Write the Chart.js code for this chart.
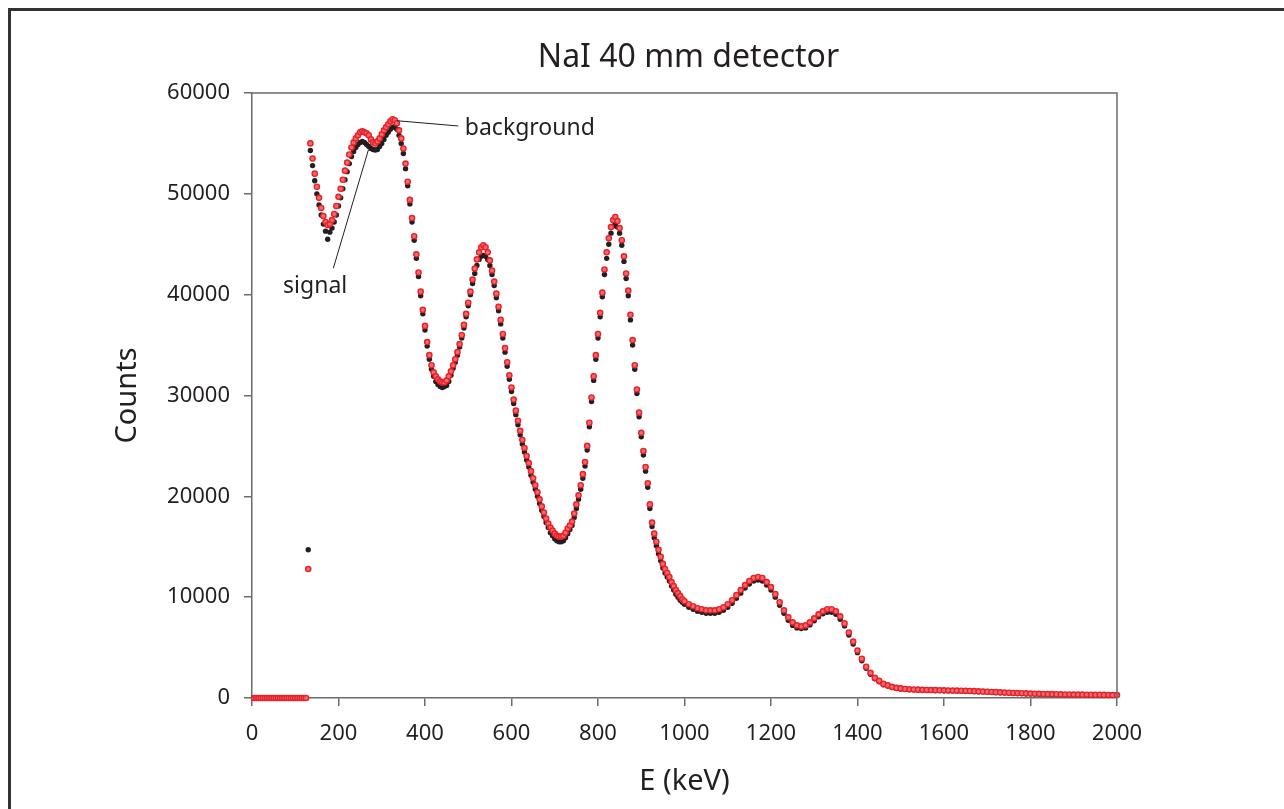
<!DOCTYPE HTML>
<html>

<head>
    <meta charset="UTF-8">
    <title>NaI 40 mm detector</title>
    <script src="https://cdn.jsdelivr.net/npm/chart.js"></script>
    <style>
        body { margin: 0; background: #fff; overflow: hidden; }
        #frame {
            position: absolute; left: 8px; top: 8px; width: 1400px; height: 1000px;
            border: 3px solid #333; pointer-events: none;
        }
        #myChart { position: absolute; left: 0; top: 0; }
    </style>
</head>

<body>
    <div id="frame"></div>
    <canvas id="myChart" width="1284" height="809"></canvas>
    <script>
        // energy channels (keV)
        const energies = [
            5, 10, 15, 20, 25, 30, 35, 40, 45, 50, 55, 60, 65, 70, 75, 80, 85, 90, 95, 100, 105, 110, 115, 120, 125,
            130, 135, 140, 145, 150, 155, 160, 165, 170, 175, 180, 185, 190, 195, 200, 205, 210, 215, 220, 225,
            230, 235, 240, 245, 250, 255, 260, 265, 270, 275, 280, 285, 290, 295, 300, 305, 310, 315, 320, 325,
            330, 335, 340, 345, 350, 355, 360, 365, 370, 375, 380, 385, 390, 395, 400, 405, 410, 415, 420, 425,
            430, 435, 440, 445, 450, 455, 460, 465, 470, 475, 480, 485, 490, 495, 500, 505, 510, 515, 520, 525,
            530, 535, 540, 545, 550, 555, 560, 565, 570, 575, 580, 585, 590, 595, 600, 605, 610, 615, 620, 625,
            630, 635, 640, 645, 650, 655, 660, 665, 670, 675, 680, 685, 690, 695, 700, 705, 710, 715, 720, 725,
            730, 735, 740, 745, 750, 755, 760, 765, 770, 775, 780, 785, 790, 795, 800, 805, 810, 815, 820, 825,
            830, 835, 840, 845, 850, 855, 860, 865, 870, 875, 880, 885, 890, 895, 900, 905, 910, 915, 920, 925,
            930, 935, 940, 945, 950, 955, 960, 965, 970, 975, 980, 985, 990, 995, 1000,
            1010, 1020, 1030, 1040, 1050, 1060, 1070, 1080, 1090, 1100, 1110, 1120, 1130, 1140, 1150, 1160, 1170, 1180, 1190, 1200,
            1210, 1220, 1230, 1240, 1250, 1260, 1270, 1280, 1290, 1300, 1310, 1320, 1330, 1340, 1350, 1360, 1370, 1380, 1390, 1400,
            1410, 1420, 1430, 1440, 1450, 1460, 1470, 1480, 1490, 1500, 1510, 1520, 1530, 1540, 1550, 1560, 1570, 1580, 1590, 1600,
            1610, 1620, 1630, 1640, 1650, 1660, 1670, 1680, 1690, 1700, 1710, 1720, 1730, 1740, 1750, 1760, 1770, 1780, 1790, 1800,
            1810, 1820, 1830, 1840, 1850, 1860, 1870, 1880, 1890, 1900, 1910, 1920, 1930, 1940, 1950, 1960, 1970, 1980, 1990, 2000
        ];

        // counts, background run (red)
        const background = [
            0, 0, 0, 0, 0, 0, 0, 0, 0, 0, 0, 0, 0, 0, 0, 0, 0, 0, 0, 0, 0, 0, 0, 0, 0,
            12800, 55000, 53500, 52000, 50700, 49600, 48600, 47800, 47200, 46900, 47000, 47400, 48000, 48800, 49700, 50500, 51400, 52300, 53100, 53900,
            54600, 55100, 55500, 55800, 56100, 56200, 56100, 56000, 55800, 55400, 55100, 55000, 55200, 55500, 55900, 56300, 56600, 56900, 57200, 57400,
            57300, 57000, 56300, 55500, 54500, 53000, 51200, 49400, 47600, 45800, 44000, 42200, 40300, 38500, 36900, 35300, 34000, 33000, 32300, 31900,
            31600, 31400, 31300, 31300, 31500, 31900, 32400, 33000, 33600, 34300, 35100, 36000, 37000, 38100, 39200, 40300, 41500, 42600, 43500, 44200,
            44700, 44900, 44700, 44200, 43400, 42400, 41300, 40100, 38800, 37500, 36100, 34700, 33300, 32000, 30800, 29600, 28500, 27500, 26500, 25600,
            24800, 24000, 23300, 22500, 21800, 21100, 20400, 19700, 19000, 18400, 17800, 17300, 16900, 16600, 16300, 16100, 16000, 16000, 16100, 16400,
            16800, 17100, 17500, 18300, 19200, 20100, 21100, 22200, 23400, 25000, 27300, 29800, 31900, 34000, 36100, 38200, 40200, 42500, 44200, 45600,
            46700, 47400, 47700, 47300, 46600, 45400, 43800, 42100, 40400, 38000, 35500, 33000, 30600, 28300, 26300, 24500, 22900, 21300, 19200, 17400,
            16300, 15500, 14700, 14000, 13300, 12800, 12400, 12000, 11500, 11100, 10700, 10400, 10100, 9800, 9600,
            9300, 9100, 8900, 8800, 8700, 8700, 8700, 8800, 9000, 9300, 9700, 10200, 10700, 11200, 11600, 11900, 12000, 11900, 11500, 11000,
            10300, 9500, 8700, 8000, 7500, 7200, 7100, 7200, 7500, 7900, 8300, 8600, 8800, 8800, 8600, 8100, 7400, 6500, 5600, 4700,
            3900, 3100, 2500, 2000, 1700, 1400, 1250, 1100, 1000, 950, 900, 870, 850, 830, 810, 800, 790, 780, 770, 760,
            750, 740, 730, 720, 710, 700, 680, 660, 640, 620, 600, 580, 560, 540, 520, 500, 485, 470, 455, 440,
            425, 410, 400, 390, 380, 370, 360, 350, 345, 340, 335, 330, 325, 320, 315, 310, 305, 300, 295, 290
        ];

        // counts, signal run (black)
        const signal = [
            0, 0, 0, 0, 0, 0, 0, 0, 0, 0, 0, 0, 0, 0, 0, 0, 0, 0, 0, 0, 0, 0, 0, 0, 0,
            14700, 54300, 52800, 51300, 50000, 48900, 47900, 47000, 46300, 45500, 46200, 46600, 47200, 47900, 48800, 49600, 50500, 51400, 52200, 53000,
            53700, 54200, 54600, 54900, 55100, 55200, 55100, 54900, 54700, 54500, 54400, 54350, 54400, 54700, 55000, 55400, 55800, 56100, 56400, 56600,
            56650, 56400, 55800, 55000, 54000, 52500, 50800, 49000, 47200, 45400, 43600, 41800, 39900, 38100, 36500, 34900, 33600, 32600, 31900, 31400,
            31100, 30900, 30800, 30900, 31000, 31400, 32000, 32700, 33300, 34000, 34800, 35700, 36700, 37800, 38900, 40000, 41100, 42100, 42900, 43500,
            43800, 43900, 43800, 43500, 42900, 42000, 40900, 39700, 38400, 37100, 35700, 34300, 32900, 31600, 30400, 29200, 28100, 27100, 26100, 25200,
            24400, 23600, 22900, 22100, 21400, 20700, 20000, 19300, 18600, 18000, 17400, 16900, 16400, 16100, 15800, 15600, 15500, 15500, 15600, 15900,
            16300, 16700, 17100, 17900, 18800, 19700, 20700, 21800, 23000, 24600, 26900, 29400, 31500, 33600, 35700, 37800, 39800, 42000, 43600, 45000,
            46100, 46800, 47000, 46700, 46100, 44900, 43300, 41600, 39900, 37500, 35000, 32600, 30200, 27900, 25900, 24100, 22500, 20900, 18800, 17000,
            15900, 15100, 14300, 13600, 12900, 12400, 12000, 11600, 11100, 10700, 10300, 10000, 9700, 9500, 9300,
            9000, 8800, 8600, 8500, 8400, 8400, 8400, 8500, 8700, 9000, 9400, 9900, 10400, 10900, 11300, 11600, 11700, 11600, 11200, 10700,
            10000, 9200, 8400, 7700, 7200, 6950, 6900, 6950, 7250, 7650, 8050, 8350, 8500, 8500, 8300, 7800, 7150, 6250, 5350, 4500,
            3700, 2950, 2350, 1900, 1600, 1320, 1180, 1040, 950, 900, 860, 830, 810, 790, 775, 765, 755, 745, 735, 725,
            715, 705, 695, 685, 675, 665, 645, 625, 605, 585, 565, 545, 525, 505, 485, 465, 450, 435, 420, 405,
            390, 380, 370, 360, 350, 340, 330, 325, 320, 315, 310, 305, 300, 295, 290, 285, 280, 275, 270, 265
        ];

        const xTicksMax = 2000;
        const yTicksMax = 60000;

        const FONT = "'Noto Sans', 'DejaVu Sans', sans-serif";
        const INK = '#231f20';
        const AXIS = '#6b6b6b';

        // plot frame, title and the two leader labels
        const decorations = {
            id: 'decorations',
            afterDraw(chart) {
                const { ctx, chartArea: a, scales: { x, y } } = chart;
                ctx.save();
                ctx.strokeStyle = AXIS;
                ctx.lineWidth = 1.5;
                ctx.beginPath();
                ctx.moveTo(a.left, a.top);
                ctx.lineTo(a.right, a.top);
                ctx.lineTo(a.right, a.bottom);
                ctx.stroke();

                ctx.fillStyle = INK;
                ctx.textAlign = 'center';
                ctx.textBaseline = 'middle';
                ctx.font = '32px ' + FONT;
                ctx.fillText('NaI 40 mm detector', (a.left + a.right) / 2 + 4, 58);

                // leader lines
                ctx.strokeStyle = INK;
                ctx.lineWidth = 1;
                ctx.beginPath();
                ctx.moveTo(x.getPixelForValue(335), y.getPixelForValue(57250));
                ctx.lineTo(x.getPixelForValue(477), y.getPixelForValue(56730));
                ctx.moveTo(x.getPixelForValue(269), y.getPixelForValue(54340));
                ctx.lineTo(x.getPixelForValue(188), y.getPixelForValue(42610));
                ctx.stroke();

                ctx.font = '23px ' + FONT;
                ctx.textAlign = 'left';
                ctx.fillText('background', x.getPixelForValue(492), y.getPixelForValue(56500));
                ctx.textAlign = 'center';
                ctx.fillText('signal', x.getPixelForValue(146), y.getPixelForValue(40790));
                ctx.restore();
            }
        };

        const toPoints = vals => vals.map((v, i) => ({ x: energies[i], y: v }));

        var ctx = document.getElementById('myChart').getContext('2d');
        const chart = new Chart(ctx, {
            type: 'scatter',
            data: {
                datasets: [{
                    label: 'background',
                    data: toPoints(background),
                    order: 1,
                    clip: false,
                    pointStyle: 'circle',
                    pointRadius: 2.6,
                    pointBorderWidth: 1.4,
                    borderColor: '#e8202a',
                    backgroundColor: '#f26a6a'
                }, {
                    label: 'signal',
                    data: toPoints(signal),
                    order: 2,
                    clip: false,
                    pointRadius: 2.7,
                    pointBorderWidth: 0,
                    borderColor: INK,
                    backgroundColor: INK
                }]
            },
            options: {
                responsive: false,
                animation: false,
                devicePixelRatio: 1,
                layout: { padding: { top: 93, right: 167, left: 0, bottom: 0 } },
                plugins: {
                    legend: { display: false },
                    tooltip: { enabled: false }
                },
                scales: {
                    x: {
                        type: 'linear',
                        min: 0,
                        max: xTicksMax,
                        afterFit: s => { s.height = 111; },
                        ticks: {
                            stepSize: 200,
                            padding: 15,
                            color: INK,
                            font: { family: FONT, size: 22 },
                            callback: v => String(v)
                        },
                        grid: { drawOnChartArea: false, drawTicks: true, tickLength: 8, color: AXIS, lineWidth: 1.5 },
                        border: { color: AXIS, width: 1.5 },
                        title: {
                            display: true,
                            text: 'E (keV)',
                            color: INK,
                            font: { family: FONT, size: 29 },
                            padding: { top: 0, bottom: 10 }
                        }
                    },
                    y: {
                        type: 'linear',
                        min: 0,
                        max: yTicksMax,
                        afterFit: s => { s.width = 252; },
                        ticks: {
                            stepSize: 10000,
                            padding: 14,
                            color: INK,
                            font: { family: FONT, size: 22 },
                            callback: v => String(v)
                        },
                        grid: { drawOnChartArea: false, drawTicks: true, tickLength: 8, color: AXIS, lineWidth: 1.5 },
                        border: { color: AXIS, width: 1.5 },
                        title: {
                            display: true,
                            text: 'Counts',
                            color: INK,
                            font: { family: FONT, size: 29 },
                            padding: { top: 110, bottom: 0 }
                        }
                    }
                }
            },
            plugins: [decorations]
        });
    </script>
</body>

</html>
